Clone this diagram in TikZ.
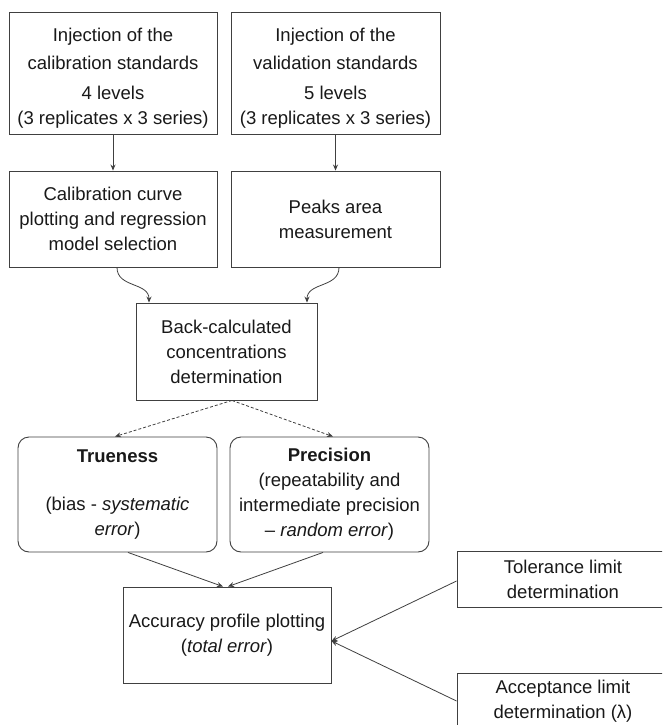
\documentclass[tikz,border=0pt]{standalone}
\usepackage{fontspec}
\setmainfont{Liberation Sans}
\usetikzlibrary{arrows.meta}
\definecolor{linec}{gray}{0.25}
\definecolor{txtc}{gray}{0.1}
\tikzset{
  box/.style={draw=linec, line width=0.9pt, rectangle, align=center, text=txtc,
    inner sep=0pt, font=\fontsize{18.5}{25}\selectfont},
  rbox/.style={box, rounded corners=11pt},
  conn/.style={draw=linec, line width=0.8pt, -{Stealth[length=6pt,width=5pt]}},
  dconn/.style={conn, dash pattern=on 3pt off 2pt}
}
\begin{document}
\begin{tikzpicture}[x=1pt,y=-1pt]
\useasboundingbox (0,0) rectangle (662,725);
\clip (0,0) rectangle (662,725);
\fill[white] (0,0) rectangle (662,725);

\node[box, minimum width=208pt, minimum height=122pt] (inj1) at (113,73)
  {\mbox{}\\[-0.5pt]Injection of the\\[3pt]calibration standards\\[5pt]4 levels\\(3 replicates x 3 series)};
\node[box, minimum width=209pt, minimum height=122pt] (inj2) at (335.5,73)
  {\mbox{}\\[-0.5pt]Injection of the\\[3pt]validation standards\\[5pt]5 levels\\(3 replicates x 3 series)};
\node[box, minimum width=208pt, minimum height=96pt] (cal) at (113,219)
  {Calibration curve\\plotting and regression\\model selection};
\node[box, minimum width=209pt, minimum height=96pt] (peak) at (335.5,219)
  {Peaks area\\measurement};
\node[box, minimum width=181pt, minimum height=97pt] (back) at (226.5,351.5)
  {Back-calculated\\concentrations\\determination};
\node[rbox, minimum width=199pt, minimum height=115pt] (true) at (117.5,494.5)
  {\textbf{Trueness}\\[23pt](bias - \textit{systematic}\\\textit{error})};
\node[rbox, minimum width=199pt, minimum height=115pt] (prec) at (329.5,494.5)
  {\textbf{Precision}\\(repeatability and\\intermediate precision\\– \textit{random error})};
\node[box, minimum width=208pt, minimum height=96pt] (acc) at (227,635)
  {Accuracy profile plotting\\(\textit{total error})};
\node[box, minimum width=212pt, minimum height=56pt] (tol) at (563,579)
  {Tolerance limit\\determination};
\node[box, minimum width=212pt, minimum height=56pt] (acl) at (563,701)
  {Acceptance limit\\determination (λ)};

\draw[conn] (inj1.south) -- (cal.north);
\draw[conn] (inj2.south) -- (peak.north);
\draw[conn] ([xshift=4pt]cal.south) to[out=-90,in=90,looseness=1.1] ([xshift=-77.5pt]back.north);
\draw[conn] ([xshift=3.5pt]peak.south) to[out=-90,in=90,looseness=1.1] ([xshift=80.5pt]back.north);
\draw[dconn] ([xshift=5.5pt]back.south) -- ([xshift=-2.5pt]true.north);
\draw[dconn] ([xshift=5.5pt]back.south) -- ([xshift=3.5pt]prec.north);
\draw[conn] ([xshift=10.5pt]true.south) -- ([xshift=-4pt]acc.north);
\draw[conn] ([xshift=-6.5pt]prec.south) -- ([xshift=1pt]acc.north);
\draw[conn] ([yshift=-2pt]tol.west) -- ([yshift=-6pt]acc.east);
\draw[conn] (acl.west) -- ([yshift=-6pt]acc.east);
\end{tikzpicture}
\end{document}
